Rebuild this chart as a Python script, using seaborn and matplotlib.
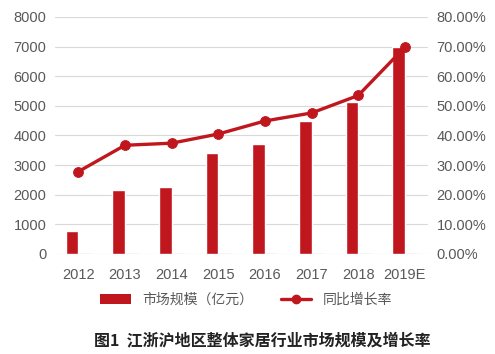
import pandas as pd
import numpy as np
import matplotlib.pyplot as plt
import seaborn as sns
from matplotlib.lines import Line2D
from matplotlib.patches import Patch

years = ["2012", "2013", "2014", "2015", "2016", "2017", "2018", "2019E"]
market_size = [790, 2150, 2250, 3400, 3710, 4490, 5130, 6990]
growth_rate = [0.278, 0.367, 0.374, 0.405, 0.449, 0.476, 0.535, 0.698]

red = "#C0171F"
grey_txt = "#595959"

sns.set_theme(style="white")
plt.rcParams["font.family"] = ["Liberation Sans", "Noto Sans CJK SC", "DejaVu Sans"]

df = pd.DataFrame({
    "year": years * 2,
    "value": market_size + growth_rate,
    "series": ["市场规模（亿元）"] * 8 + ["同比增长率"] * 8,
})

fig = plt.figure(figsize=(4.95, 3.54), dpi=100)
ax = fig.add_axes([0.111, 0.2825, 0.754, 0.6695])

sns.barplot(data=df, x="year", y="value", hue="series", ax=ax,
            palette=[red, "#808080"], width=0.54, legend=False, saturation=1)
# growth-rate bars on the left scale are only a hairline at zero
for p in ax.patches[8:16]:
    p.set_edgecolor("#8c8c8c")
    p.set_linewidth(0.8)
ax.set_ylim(0, 8000)
ax.set_xlim(-0.5, 7.5)
ax.set_yticks(np.arange(0, 8001, 1000))
ax.yaxis.grid(True, color="#d9d9d9", linewidth=0.8)
ax.set_axisbelow(True)
for s in ax.spines.values():
    s.set_visible(False)
ax.set_xlabel("")
ax.set_ylabel("")
ax.tick_params(axis="y", colors=grey_txt, labelsize=10.5, length=0, pad=6)
ax.tick_params(axis="x", colors=grey_txt, labelsize=10.5, length=0, pad=10)

ax2 = ax.twinx()
sns.lineplot(x=np.arange(8), y=growth_rate, ax=ax2, color=red, linewidth=2.4,
             marker="o", markersize=7, markeredgecolor=red)
ax2.set_ylim(0, 0.8)
ax2.set_yticks(np.arange(0, 0.81, 0.1))
ax2.set_yticklabels([f"{v * 100:.2f}%" for v in np.arange(0, 0.81, 0.1)])
for s in ax2.spines.values():
    s.set_visible(False)
ax2.tick_params(axis="y", colors=grey_txt, labelsize=10.5, length=0, pad=6)
ax2.grid(False)

handles = [Patch(facecolor=red, edgecolor="none"),
           Line2D([0], [0], color=red, linewidth=2.4, marker="o", markersize=6)]
fig.legend(handles, ["市场规模（亿元）", "同比增长率"], loc="center",
           bbox_to_anchor=(0.497, 0.153), ncol=2, frameon=False,
           labelcolor=grey_txt, handlelength=2.2, columnspacing=2.0,
           prop={"family": ["Noto Sans CJK SC", "DejaVu Sans"], "size": 10})

fig.text(0.53, 0.04, "图1  江浙沪地区整体家居行业市场规模及增长率", ha="center",
         va="center", fontsize=11.5, fontweight="bold", color="#222222",
         family=["Noto Sans CJK SC", "DejaVu Sans"])

fig.savefig("out.png", dpi=100)
